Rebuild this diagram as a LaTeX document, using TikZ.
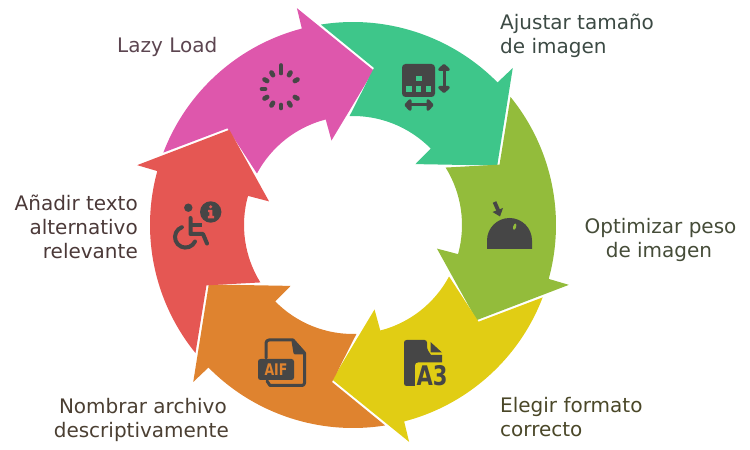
\documentclass[tikz,border=0pt]{standalone}
\usepackage{fontspec}
\setmainfont{DejaVu Sans}
\usetikzlibrary{arrows.meta}
\definecolor{cpink}{HTML}{DE57AC}
\definecolor{cgreen}{HTML}{3EC68A}
\definecolor{colive}{HTML}{93BC3B}
\definecolor{cyellow}{HTML}{E1CD14}
\definecolor{corange}{HTML}{DF832F}
\definecolor{cred}{HTML}{E55753}
\definecolor{cicon}{HTML}{464646}
\newcommand{\petal}[2]{%
  \fill[#2,shift={(353,225)},rotate=#1]
    (159.1:203pt) arc[start angle=159.1,end angle=104.6,radius=203pt]
    -- (104.5:224pt) -- (82.4:156pt) -- (104.3:87.2pt) -- (104.5:109pt)
    arc[start angle=104.5,end angle=151.8,radius=109pt]
    -- (142.4:158.5pt) -- cycle;}
\tikzset{
  lab/.style={inner sep=0pt,align=#1,font=\fontsize{20}{24}\selectfont},
  lab/.default=left,
  ico/.style={cicon,line width=3pt,line cap=round,line join=round},
  tick/.style={cicon,line width=4.7pt,line cap=round}
}
\begin{document}
\begin{tikzpicture}[x=1pt,y=1pt]
\useasboundingbox (0,0) rectangle (750,450);
\petal{0}{cpink}
\petal{-60}{cgreen}
\petal{-120}{colive}
\petal{-180}{cyellow}
\petal{-240}{corange}
\petal{-300}{cred}
\begin{scope}[yshift=450pt,y=-1pt]
% labels
\node[lab,anchor=west,text={rgb,255:red,92;green,69;blue,80}] (lazy) at (117,47) {Lazy Load};
\node[lab,anchor=west,text={rgb,255:red,60;green,74;blue,68}] (ajustar) at (500,36) {Ajustar tamaño\\de imagen};
\node[lab=center,anchor=center,text={rgb,255:red,69;green,76;blue,56}] (optim) at (660.5,240) {Optimizar peso\\de imagen\hspace*{3pt}};
\node[lab,anchor=west,text={rgb,255:red,74;green,71;blue,40}] (elegir) at (500,417) {Elegir formato\\correcto};
\node[lab=right,anchor=east,text={rgb,255:red,75;green,63;blue,50}] (nombrar) at (229,420) {Nombrar archivo\hspace*{2pt}\\descriptivamente};
\node[lab=right,anchor=east,text={rgb,255:red,75;green,57;blue,56}] (anadir) at (138,227) {Añadir texto\\alternativo\\relevante};
% spinner
\foreach \a in {30,60,...,330}{
  \draw[tick] ([shift={(281,89)}]\a:16pt) -- ([shift={(281,89)}]\a:19pt);}
\draw[tick] (281,65.5) -- (281,72.8);
% resize icon
\fill[cicon,rounded corners=3.5pt] (402,64) rectangle (435,97);
\fill[cgreen] (416,76) rectangle (421.5,81.5);
\foreach \x in {406,415.7,425.5}{\fill[cgreen] (\x,86) rectangle +(5.6,5.6);}
\draw[ico] (444,67) -- (444,90);
\fill[ico,draw=cicon] (439.7,69.5) -- (444,65.5) -- (448.3,69.5) -- cycle;
\fill[ico,draw=cicon] (439.7,87.5) -- (444,91.5) -- (448.3,87.5) -- cycle;
\draw[ico] (407,105) -- (431,105);
\fill[ico,draw=cicon] (410,100.7) -- (406,105) -- (410,109.3) -- cycle;
\fill[ico,draw=cicon] (428,100.7) -- (432,105) -- (428,109.3) -- cycle;
% weight icon
\fill[cicon] (487,249) -- (487,240.5) arc[start angle=180,end angle=0,radius=22.5pt] -- (532,249) -- cycle;
\fill[colive,rotate around={-15:(514.7,226.7)}] (514.7,226.7) ellipse[x radius=1.5pt,y radius=3.2pt];
\draw[cicon,line width=3.8pt] (494.5,202) -- (498.5,211);
\fill[cicon,line join=round] (492.5,212) -- (503,208) -- (500,216.5) -- cycle;
% file A3
\fill[cicon,rounded corners=2.5pt] (404,340) -- (427,340) -- (427,349) [sharp corners] -- (431,355) -- (442,355) -- (442,364) -- (420,364) -- (420,386) [rounded corners=2.5pt] -- (404,386) -- cycle;
\fill[cicon,line join=round] (430.5,342) -- (442,352.5) -- (430.5,352.5) -- cycle;
\fill[cyellow,rounded corners=3pt] (415,362.5) rectangle (449,389);
\node[inner sep=0pt,text=cicon,font=\fontsize{27}{27}\selectfont\bfseries] (athree) at (432,376) {\scalebox{.78}[1]{A3}};
% file AIF
\draw[ico] (266,358) -- (266,343) arc[start angle=180,end angle=90,radius=3pt] -- (293,340) -- (304.5,353) -- (304.5,383) arc[start angle=0,end angle=-90,radius=2.5pt] -- (270,385.5) -- (267,381);
\fill[ico,draw=cicon] (293,341) -- (304,353) -- (295,353) -- cycle;
\fill[cicon,rounded corners=2.5pt] (258,359) rectangle (294,380);
\node[inner sep=0pt,text=corange,font=\fontsize{16}{16}\selectfont\bfseries] (aif) at (276,369.5) {\scalebox{.78}[1]{AIF}};
% wheelchair
\fill[cicon] (188.3,207.7) circle[radius=4.2pt];
\draw[cicon,line width=4pt,line join=round,line cap=round] (190.5,218) -- (190.5,234) -- (203,234) -- (207,243.5);
\draw[cicon,line width=4pt] (190.5,225) -- (202,225);
\draw[cicon,line width=4pt,line cap=round] (181.9,227.2) arc[start angle=110,end angle=335,radius=10.5pt];
\fill[cicon] (210.7,212) circle[radius=10.7pt];
\fill[cred] (210.7,206.8) circle[radius=1.7pt];
\fill[cred] (208.2,210) -- (212.4,210) -- (212.4,216) -- (214,216) -- (214,218.5) -- (207.8,218.5) -- (207.8,216) -- (209.4,216) -- (209.4,212.2) -- (208.2,212.2) -- cycle;
\end{scope}
\end{tikzpicture}
\end{document}
